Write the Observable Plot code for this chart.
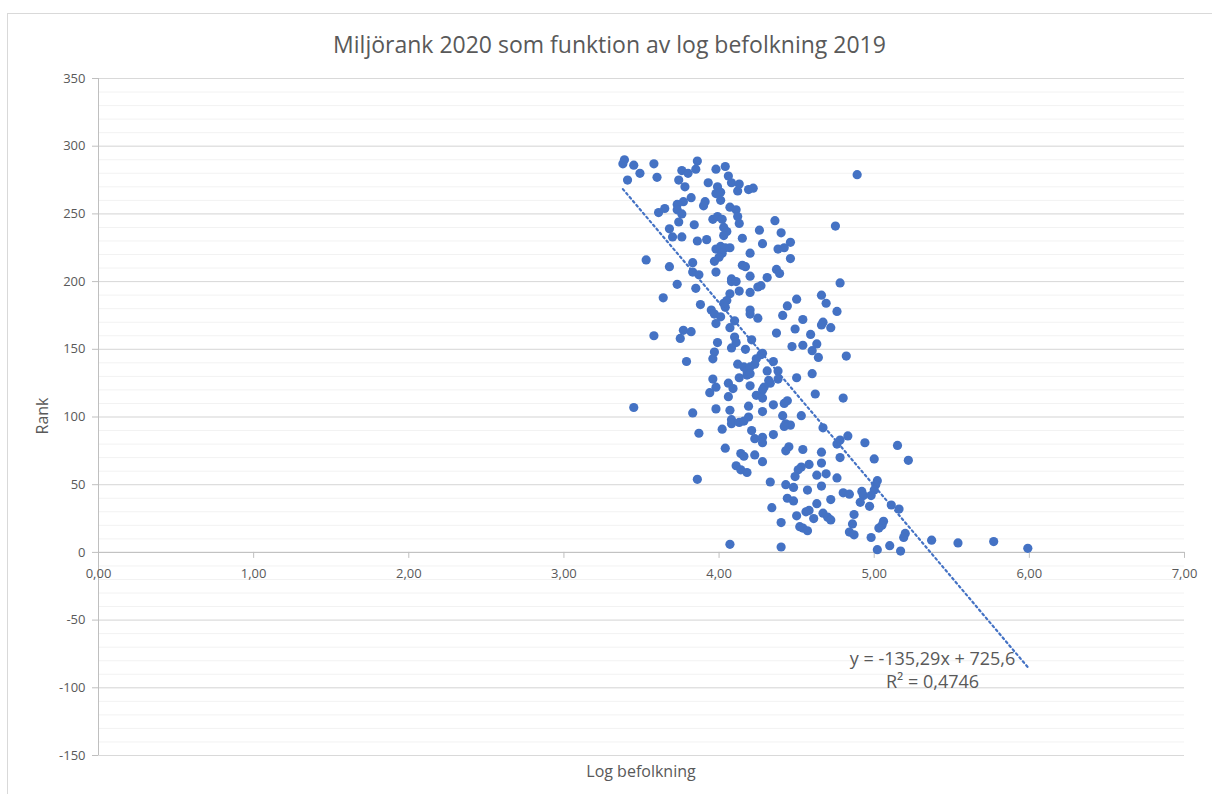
<!DOCTYPE html>
<html>
<head>
<meta charset="utf-8">
<script src="https://cdn.jsdelivr.net/npm/d3@7"></script>
<script src="https://cdn.jsdelivr.net/npm/@observablehq/plot@0.6"></script>
<style>
  body { margin: 0; background: #fff; font-family: "Open Sans", "Noto Sans", sans-serif; color: #595959; }
  #chart { position: relative; width: 1212px; height: 794px; overflow: hidden; }
  #frame { position: absolute; left: 7px; top: 13px; width: 1210px; height: 790px; border: 1px solid #d9d9d9; box-sizing: border-box; }
  #title { position: absolute; left: 7px; width: 1205px; top: 29px; text-align: center; font-size: 23px; line-height: 30px; }
  #plot { position: absolute; left: 0; top: 60px; }
  #xlabel { position: absolute; left: 98px; width: 1086px; top: 760px; text-align: center; font-size: 16px; line-height: 22px; }
  #ylabel { position: absolute; left: 42px; top: 416px; font-size: 16px; line-height: 22px; transform: translate(-50%, -50%) rotate(-90deg); white-space: nowrap; }
</style>
</head>
<body>
<div id="chart">
  <div id="frame"></div>
  <div id="title">Miljörank 2020 som funktion av log befolkning 2019</div>
  <div id="plot"></div>
  <div id="ylabel">Rank</div>
  <div id="xlabel">Log befolkning</div>
</div>
<script>
// Log10 of 2019 population per municipality
const logPop = [
  3.39,3.38,3.45,3.49,3.58,3.60,3.41,3.86,3.85,3.76,3.80,3.74,3.78,3.98,4.04,4.06,4.08,4.13,4.12,4.19,
  4.22,3.93,3.99,3.98,4.01,4.01,3.82,3.77,3.73,3.73,3.76,3.91,3.90,3.65,3.61,4.07,4.11,4.12,4.13,3.96,
  3.99,4.02,3.74,3.84,4.03,4.05,4.03,3.68,3.70,3.76,3.86,3.92,4.15,4.26,4.36,4.28,3.98,4.01,4.04,4.07,
  4.02,4.00,4.20,4.38,3.53,3.68,3.83,3.97,4.15,4.17,3.83,3.87,3.98,4.20,4.31,4.37,4.08,
  3.73,3.85,4.08,4.11,4.25,4.27,4.20,4.13,4.07,4.05,4.03,3.64,3.88,3.95,3.97,4.01,3.98,4.04,4.20,4.20,
  4.25,4.10,4.07,4.37,3.58,3.77,3.82,3.75,3.99,4.10,4.11,4.21,4.08,4.17,3.97,3.96,4.28,4.27,4.24,4.23,
  3.79,4.12,4.16,4.18,4.20,4.35,4.31,4.38,4.13,4.18,4.20,4.38,4.32,4.33,3.96,3.98,3.94,4.06,4.09,4.06,
  4.20,4.29,4.28,4.24,4.28,4.35,3.45,
  3.83,3.98,4.07,4.19,4.28,4.08,4.08,4.13,4.16,4.19,3.87,4.02,4.21,4.23,4.28,4.28,4.35,4.04,4.14,4.16,
  4.23,4.28,4.11,4.14,4.18,3.86,4.33,4.34,4.07,
  4.89,4.75,4.40,4.46,4.42,4.46,4.39,
  4.78,4.66,4.69,4.50,4.44,4.76,4.41,4.54,4.67,4.66,4.72,4.49,4.59,4.63,4.54,4.47,4.60,4.64,4.82,4.60,
  4.50,4.62,4.80,4.44,4.42,
  4.41,4.43,4.46,4.42,4.53,4.67,4.83,4.78,4.76,4.94,5.15,4.45,4.43,4.54,4.66,4.78,5.00,5.22,4.66,4.58,
  4.53,4.51,4.49,4.63,4.69,4.76,4.43,4.48,4.57,4.66,5.02,5.01,5.00,4.80,4.84,4.92,4.93,4.98,4.44,4.48,
  4.72,4.91,4.63,4.97,5.11,5.16,4.58,4.56,4.67,4.70,4.72,4.61,4.50,4.87,4.86,4.40,4.52,4.54,4.57,5.06,
  5.05,5.03,4.84,4.87,5.20,5.19,4.98,5.37,5.54,5.77,5.99,4.40,5.02,5.10,5.17
];

// Environmental rank 2020, same order as logPop
const rank = [
  290,287,286,280,287,277,275,289,283,282,280,275,270,283,285,278,273,272,267,268,
  269,273,270,265,266,260,262,259,257,253,250,259,256,254,251,255,253,248,243,246,
  248,246,244,242,240,237,234,239,233,233,230,231,232,238,245,228,224,226,225,225,
  221,218,221,224,216,211,214,215,212,211,207,205,207,204,203,209,202,
  198,195,200,200,196,197,192,193,191,186,184,188,183,179,176,174,169,181,179,176,
  173,171,166,162,160,164,163,158,155,159,155,157,151,150,148,143,147,146,143,139,
  141,139,137,134,137,141,134,134,129,131,132,128,127,125,128,122,118,125,121,115,
  123,122,120,116,114,109,107,
  103,106,105,108,104,98,95,96,97,100,88,91,90,84,85,81,87,77,73,71,
  72,67,64,61,59,54,52,33,6,
  279,241,236,229,225,217,206,
  199,190,184,187,182,178,175,172,170,168,166,165,161,154,153,152,149,144,145,132,
  129,117,114,112,110,
  101,95,94,93,101,92,86,83,80,81,79,78,75,76,74,70,69,68,66,65,
  63,61,56,57,58,55,50,48,46,49,53,50,46,44,43,45,42,42,40,38,
  39,37,36,34,35,32,31,30,29,26,24,25,27,28,21,22,19,18,16,23,
  20,18,15,13,14,11,11,9,7,8,3,4,2,5,1
];

// Linear trend line as reported on the chart
const slope = -135.29;
const intercept = 725.6;
const rSquared = 0.4746;

const xTicks = [0, 1, 2, 3, 4, 5, 6, 7];
const yTicks = [-150, -100, -50, 0, 50, 100, 150, 200, 250, 300, 350];
const yMinor = d3.range(-150, 351, 10);

const points = logPop.map((x, i) => ({x, y: rank[i]}));
const xMin = d3.min(logPop), xMax = d3.max(logPop);
const trend = [xMin, xMax].map(x => ({x, y: slope * x + intercept}));

const comma = (v, digits) => v.toFixed(digits).replace(".", ",");
const eqText = `y = ${comma(slope, 2)}x + ${comma(intercept, 1)}\nR² = ${comma(rSquared, 4)}`;

const blue = "#4472C4";

const chart = Plot.plot({
  width: 1212,
  height: 720,
  marginLeft: 98,
  marginRight: 28,
  marginTop: 18,
  marginBottom: 25,
  style: {fontFamily: "'Open Sans', 'Noto Sans', sans-serif", fontSize: "13px", color: "#595959", background: "transparent", overflow: "visible"},
  x: {domain: [0, 7], axis: null},
  y: {domain: [-150, 350], axis: null},
  marks: [
    Plot.ruleY(yMinor, {stroke: "#f2f2f2", strokeWidth: 1}),
    Plot.ruleY(yTicks, {stroke: "#d9d9d9", strokeWidth: 1}),
    Plot.ruleX([0], {stroke: "#bfbfbf", strokeWidth: 1}),
    Plot.ruleY([0], {stroke: "#bfbfbf", strokeWidth: 1}),
    Plot.axisY(yTicks, {
      tickSize: 6, tickPadding: 7, stroke: "#bfbfbf", fill: "#595959",
      fontSize: 13, tickFormat: d => String(d), label: null
    }),
    Plot.ruleX(xTicks, {x: d => d, y1: 0, y2: 0, insetBottom: -6, stroke: "#bfbfbf"}),
    Plot.text(xTicks, {x: d => d, y: 0, dy: 21, text: d => comma(d, 2), fill: "#595959", fontSize: 13}),
    Plot.dot(points, {x: "x", y: "y", r: 4.6, fill: blue, stroke: null}),
    Plot.line(trend, {x: "x", y: "y", stroke: blue, strokeWidth: 2.2, strokeDasharray: "2,3.2"}),
    Plot.text([eqText], {
      x: 5.376, y: -86, text: d => d, fontSize: 18, lineHeight: 1.3,
      fill: "#595959", textAnchor: "middle"
    })
  ]
});

document.getElementById("plot").appendChild(chart);
</script>
</body>
</html>
